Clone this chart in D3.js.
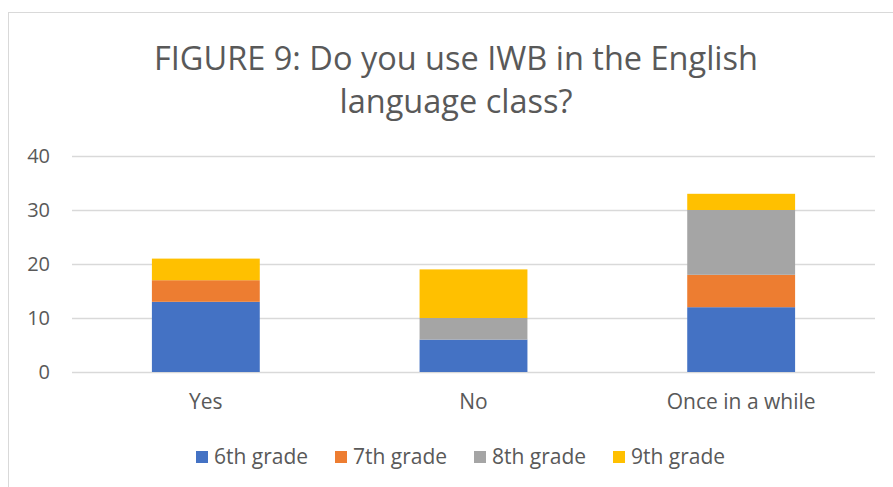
<!DOCTYPE html>
<html>
<head>
<meta charset="utf-8">
<script src="https://cdn.jsdelivr.net/npm/d3@7"></script>
<style>
  body { margin: 0; background: #fff; }
  svg { display: block; font-family: "Open Sans", sans-serif; }
</style>
</head>
<body>
<div id="chart"></div>
<script>
var svgWidth = 893;
var svgHeight = 487;

// data
var categories = ["Yes", "No", "Once in a while"];
var seriesNames = ["6th grade", "7th grade", "8th grade", "9th grade"];
var grade6 = [13, 6, 12];
var grade7 = [4, 0, 6];
var grade8 = [0, 4, 12];
var grade9 = [4, 9, 3];
var yTicks = [0, 10, 20, 30, 40];
var colors = ["#4472C4", "#ED7D31", "#A5A5A5", "#FFC000"];

var margin = { top: 156, right: 18, bottom: 115, left: 72 };
var width = svgWidth - margin.left - margin.right;
var height = svgHeight - margin.top - margin.bottom;

var svg = d3.select("#chart")
    .append("svg")
    .attr("width", svgWidth)
    .attr("height", svgHeight);

// chart area border
svg.append("rect")
    .attr("x", 8.5)
    .attr("y", 12.5)
    .attr("width", 900)
    .attr("height", 500)
    .attr("fill", "none")
    .attr("stroke", "#d9d9d9")
    .attr("stroke-width", 1);

// title
var title = svg.append("text")
    .attr("text-anchor", "middle")
    .attr("fill", "#595959")
    .attr("font-size", "32.5px");
title.append("tspan").attr("x", 456).attr("y", 70).text("FIGURE 9: Do you use IWB in the English");
title.append("tspan").attr("x", 456).attr("y", 113).text("language class?");

var chartGroup = svg.append("g")
    .attr("transform", `translate(${margin.left}, ${margin.top})`);

// scales
var xScale = d3.scaleBand()
    .domain(categories)
    .range([0, width])
    .paddingInner(0.597)
    .paddingOuter(0.2985);

var yScale = d3.scaleLinear()
    .domain([0, 40])
    .range([height, 0]);

// gridlines
chartGroup.append("g")
    .selectAll("line")
    .data(yTicks)
    .enter()
    .append("line")
    .attr("x1", 0)
    .attr("x2", width)
    .attr("y1", d => Math.round(yScale(d)) + 0.5)
    .attr("y2", d => Math.round(yScale(d)) + 0.5)
    .attr("stroke", "#d9d9d9")
    .attr("stroke-width", 1.5);

// stacked bars
var rows = categories.map(function(c, i) {
    return { cat: c, "6th grade": grade6[i], "7th grade": grade7[i], "8th grade": grade8[i], "9th grade": grade9[i] };
});
var stacked = d3.stack().keys(seriesNames)(rows);

chartGroup.append("g")
    .selectAll("g")
    .data(stacked)
    .enter()
    .append("g")
    .attr("fill", (d, i) => colors[i])
    .selectAll("rect")
    .data(d => d)
    .enter()
    .append("rect")
    .attr("x", d => xScale(d.data.cat))
    .attr("y", d => yScale(d[1]))
    .attr("width", xScale.bandwidth())
    .attr("height", d => yScale(d[0]) - yScale(d[1]));

// y axis labels
var leftAxis = d3.axisLeft(yScale).tickValues(yTicks).tickSize(0).tickPadding(22);
var yAxisG = chartGroup.append("g").call(leftAxis);
yAxisG.select(".domain").remove();
yAxisG.selectAll("text")
    .attr("fill", "#595959")
    .attr("font-size", "20px")
    .attr("font-family", "Open Sans, sans-serif");

// x axis labels
var bottomAxis = d3.axisBottom(xScale).tickSize(0).tickPadding(22);
var xAxisG = chartGroup.append("g")
    .attr("transform", `translate(0, ${height})`)
    .call(bottomAxis);
xAxisG.select(".domain").remove();
xAxisG.selectAll("text")
    .attr("fill", "#595959")
    .attr("font-size", "21px")
    .attr("font-family", "Open Sans, sans-serif");

// legend
var legend = svg.append("g")
    .selectAll("g")
    .data(seriesNames)
    .enter()
    .append("g")
    .attr("transform", (d, i) => `translate(${196 + i * 139}, 457)`);

legend.append("rect")
    .attr("x", 0)
    .attr("y", -6)
    .attr("width", 12)
    .attr("height", 12)
    .attr("fill", (d, i) => colors[i]);

legend.append("text")
    .attr("x", 18)
    .attr("y", 0)
    .attr("dy", "0.35em")
    .attr("fill", "#595959")
    .attr("font-size", "21px")
    .text(d => d);
</script>
</body>
</html>
